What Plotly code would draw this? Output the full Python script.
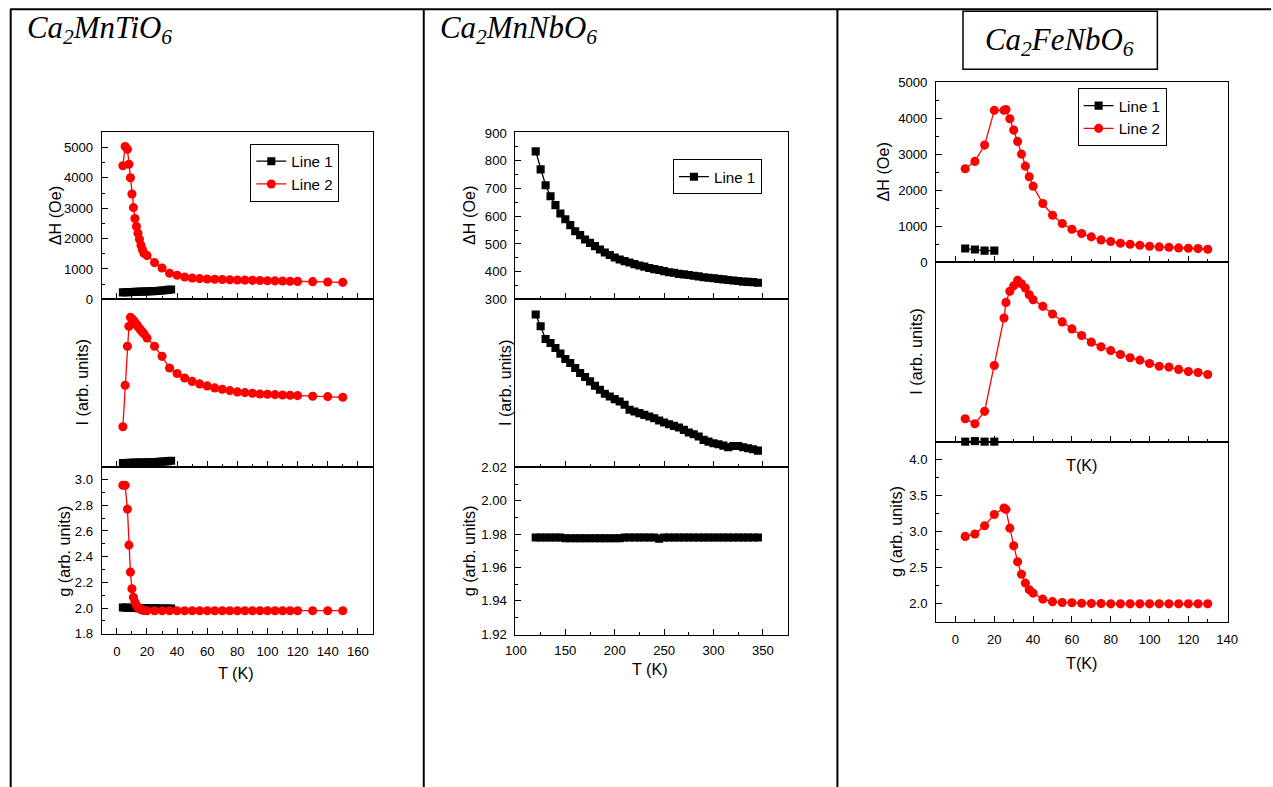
import plotly.graph_objects as go

# The page is shown with an 8 px body margin and the shot is scaled down a little;
# positions below are given in picture pixels and converted to figure coordinates.
W, H = 1281, 796
OFF = 8
SX, SY = 1273 / 1289, 787 / 803

# ---------------- data: Ca2MnTiO6 ----------------
t1_red = [4, 5.5, 7, 8, 9, 10, 11, 12, 13, 14, 15, 16, 17, 18, 20,
          25, 30, 35, 40, 45, 50, 55, 60, 65, 70, 75, 80, 85, 90, 95,
          100, 105, 110, 115, 120, 130, 140, 150]
dH1_red = [4400, 5030, 4945, 4450, 4000, 3470, 3020, 2660, 2400, 2180, 1980, 1780, 1630, 1520, 1440,
           1209, 1033, 857, 791, 736, 703, 681, 670, 660, 652, 645, 638, 632, 626, 620,
           614, 608, 602, 596, 590, 582, 571, 560]
I1_red = [0.239, 0.487, 0.72, 0.84, 0.893, 0.885, 0.875, 0.862, 0.85, 0.838, 0.826, 0.815, 0.805, 0.795, 0.77,
          0.72, 0.66, 0.59, 0.557, 0.53, 0.51, 0.495, 0.483, 0.471, 0.463, 0.455, 0.447, 0.443, 0.439, 0.435,
          0.433, 0.431, 0.429, 0.427, 0.425, 0.421, 0.419, 0.415]
g1_red = [2.956, 2.956, 2.77, 2.49, 2.28, 2.15, 2.085, 2.045, 2.02, 2.005, 1.995, 1.99, 1.985, 1.982, 1.98,
          1.98, 1.98, 1.98, 1.98, 1.98, 1.98, 1.98, 1.98, 1.98, 1.98, 1.98, 1.98, 1.98, 1.98, 1.98,
          1.98, 1.98, 1.98, 1.98, 1.98, 1.98, 1.98, 1.98]
t1_blk = [4, 6, 8, 10, 12, 14, 16, 18, 20, 22, 24, 26, 28, 30, 32, 34, 36]
dH1_blk = [230, 234, 238, 242, 246, 250, 254, 258, 262, 266, 270, 276, 284, 292, 300, 310, 322]
I1_blk = [0.022, 0.022, 0.023, 0.023, 0.024, 0.024, 0.025, 0.025, 0.026, 0.026, 0.027, 0.028, 0.029,
          0.030, 0.031, 0.033, 0.035]
g1_blk = [2.005, 2.004, 2.003, 2.002, 2.001, 2.0, 2.0, 1.999, 1.999, 1.998, 1.998, 1.998, 1.997,
          1.997, 1.997, 1.996, 1.996]

# ---------------- data: Ca2MnNbO6 ----------------
t2 = [120, 125, 130, 135, 140, 145, 150, 155, 160, 165, 170, 175, 180, 185, 190, 195,
      200, 205, 210, 215, 220, 225, 230, 235, 240, 245, 250, 255, 260, 265, 270, 275,
      280, 285, 290, 295, 300, 305, 310, 315, 320, 325, 330, 335, 340, 345]
dH2 = [834, 769, 712, 672, 640, 610, 589, 568, 546, 532, 516, 504, 492, 480, 469, 460,
       451, 444, 438, 433, 427, 422, 418, 413, 409, 406, 402, 398, 396, 392, 390, 388,
       385, 383, 380, 378, 376, 374, 372, 370, 368, 366, 364, 363, 362, 360]
I2 = [0.91, 0.84, 0.764, 0.74, 0.71, 0.676, 0.644, 0.62, 0.59, 0.56, 0.536, 0.51, 0.484, 0.46,
      0.436, 0.42, 0.404, 0.39, 0.37, 0.34, 0.33, 0.32, 0.31, 0.30, 0.29, 0.276, 0.264, 0.254,
      0.244, 0.234, 0.22, 0.204, 0.194, 0.18, 0.16, 0.15, 0.14, 0.134, 0.126, 0.116, 0.124,
      0.124, 0.116, 0.11, 0.104, 0.096]
g2 = [1.978, 1.978, 1.978, 1.978, 1.978, 1.978,
      1.9775, 1.9775, 1.9775, 1.9775, 1.9775, 1.9775, 1.9775, 1.9775, 1.9775, 1.9775, 1.9775, 1.9775,
      1.978, 1.978, 1.978, 1.978, 1.978, 1.978, 1.978, 1.9773,
      1.978, 1.978, 1.978, 1.978, 1.978, 1.978, 1.978, 1.978, 1.978, 1.978,
      1.978, 1.978, 1.978, 1.978, 1.978, 1.978, 1.978, 1.978, 1.978, 1.978]

# ---------------- data: Ca2FeNbO6 ----------------
t3_red = [5, 10, 15, 20, 25, 26, 28, 30, 32, 34, 36, 38, 40,
          45, 50, 55, 60, 65, 70, 75, 80, 85, 90, 95, 100, 105, 110, 115, 120, 125, 130]
dH3_red = [2602, 2806, 3261, 4227, 4230, 4250, 3995, 3679, 3363, 3010, 2675, 2378, 2118,
           1635, 1310, 1078, 920, 799, 706, 622, 576, 529, 502, 474, 446, 427, 418, 399, 390, 381, 362]
I3_red = [0.128, 0.10, 0.169, 0.425, 0.69, 0.777, 0.839, 0.87, 0.90, 0.881, 0.857, 0.82, 0.792,
          0.755, 0.712, 0.668, 0.629, 0.592, 0.555, 0.529, 0.508, 0.486, 0.468, 0.455, 0.436,
          0.421, 0.416, 0.403, 0.391, 0.386, 0.375]
g3_red = [2.935, 2.968, 3.083, 3.24, 3.33, 3.31, 3.05, 2.806, 2.583, 2.41, 2.287, 2.194, 2.148,
          2.065, 2.03, 2.019, 2.014, 2.008, 2.005, 2.003, 2.0, 2.0, 2.0, 2.0, 2.0, 2.0, 2.0, 2.0,
          2.0, 2.0, 2.0]
t3_blk = [5, 10, 15, 20]
dH3_blk = [381, 353, 325, 325]
I3_blk = [0.0, 0.003, 0.0, 0.0]

titles = ["<i>Ca<sub>2</sub>MnTiO<sub>6</sub></i>",
          "<i>Ca<sub>2</sub>MnNbO<sub>6</sub></i>",
          "<i>Ca<sub>2</sub>FeNbO<sub>6</sub></i>"]

SANS = "Liberation Sans, Arial, sans-serif"
SERIF = "Liberation Serif, Times New Roman, serif"
RED = "#ff0000"

def fx(x):
    return (x / SX - OFF) / W

def fy(y):
    return 1 - (y / SY - OFF) / H

def fs(s):
    return s / SX

# panel geometry (picture pixels)
geo = [
    dict(x=(100, 372), rows=[(133, 300), (300, 467), (467, 634)],
         xr=[-10, 170], xd=20, xm=10, so=5),
    dict(x=(515, 788), rows=[(133, 300), (300, 467), (467, 635)],
         xr=[99.5, 375], xd=50, xm=25, so=3),
    dict(x=(937, 1230), rows=[(83, 263), (263, 442), (442, 622)],
         xr=[-10, 140.5], xd=20, xm=10, so=5),
]
yspec = [
    [dict(r=[-5, 5500], d=1000, m=500, f=None), dict(r=[0, 1], d=None), dict(r=[1.8, 3.1], d=0.2, m=0.1, f=".1f")],
    [dict(r=[299.5, 903], d=100, m=50, f=None), dict(r=[0, 1], d=None), dict(r=[1.9195, 2.0205], d=0.02, m=0.01, f=".2f")],
    [dict(r=[-5, 5010], d=1000, m=500, f=None), dict(r=[0, 1], d=None), dict(r=[1.75, 4.25], d=0.5, m=0.25, f=".1f")],
]

fig = go.Figure()
layout = dict(width=W, height=H, autosize=False, margin=dict(l=0, r=0, t=0, b=0, pad=0),
              paper_bgcolor="white", plot_bgcolor="white", showlegend=True,
              font=dict(family=SANS, size=fs(13), color="black"))

tickfont = dict(family=SANS, size=fs(13), color="black")
for p in range(3):
    g = geo[p]
    for r in range(3):
        k = p * 3 + r + 1
        y0, y1 = g["rows"][r]
        xa = dict(domain=[fx(g["x"][0]), fx(g["x"][1])], anchor=f"y{k}", range=g["xr"],
                  showline=True, mirror=True, linecolor="black", linewidth=1,
                  showgrid=False, zeroline=False, ticks="inside", ticklen=6, tickcolor="black",
                  dtick=g["xd"], tick0=0,
                  minor=dict(ticks="inside", ticklen=3, dtick=g["xm"], tickcolor="black", showgrid=False),
                  showticklabels=(r == 2), tickfont=tickfont, ticklabelstandoff=g["so"])
        ys = yspec[p][r]
        ya = dict(domain=[fy(y1), fy(y0)], anchor=f"x{k}", range=ys["r"],
                  showline=True, mirror=True, linecolor="black", linewidth=1,
                  showgrid=False, zeroline=False, tickfont=tickfont)
        if ys["d"] is None:
            ya.update(ticks="", showticklabels=False)
        else:
            ya.update(ticks="inside", ticklen=6, tickcolor="black", dtick=ys["d"], tick0=0,
                      minor=dict(ticks="inside", ticklen=3, dtick=ys["m"], tickcolor="black", showgrid=False),
                      ticklabelstandoff=5)
            if ys["f"]:
                ya["tickformat"] = ys["f"]
        sfx = "" if k == 1 else str(k)
        layout["xaxis" + sfx] = xa
        layout["yaxis" + sfx] = ya


def add(x, y, k, color, symbol, size, name=None, legend=None, clip=True):
    sfx = "" if k == 1 else str(k)
    fig.add_trace(go.Scatter(
        x=x, y=y, mode="lines+markers", xaxis="x" + sfx, yaxis="y" + sfx,
        line=dict(color=color, width=1.3),
        marker=dict(color=color, symbol=symbol, size=fs(size)),
        name=name if name else "", showlegend=name is not None,
        legend=legend if legend else "legend", cliponaxis=clip))

SQ, CI = "square", "circle"
# panel 1
add(t1_blk, dH1_blk, 1, "black", SQ, 8, "Line 1", "legend")
add(t1_red, dH1_red, 1, RED, CI, 9, "Line 2", "legend")
add(t1_blk, I1_blk, 2, "black", SQ, 8)
add(t1_red, I1_red, 2, RED, CI, 9)
add(t1_blk, g1_blk, 3, "black", SQ, 8)
add(t1_red, g1_red, 3, RED, CI, 9)
# panel 2
add(t2, dH2, 4, "black", SQ, 8, "Line 1", "legend2")
add(t2, I2, 5, "black", SQ, 8)
add(t2, g2, 6, "black", SQ, 8)
# panel 3
add(t3_blk, dH3_blk, 7, "black", SQ, 8, "Line 1", "legend3")
add(t3_red, dH3_red, 7, RED, CI, 9, "Line 2", "legend3")
add(t3_blk, I3_blk, 8, "black", SQ, 8, clip=False)
add(t3_red, I3_red, 8, RED, CI, 9)
add(t3_red, g3_red, 9, RED, CI, 9)

legfont = dict(family=SANS, size=fs(15), color="black")
# (left, vertical centre, entry width) in picture pixels
for key, (lx, lyc, ew) in zip(["legend", "legend2", "legend3"],
                              [(249, 173.5, 58), (673, 177.5, 61), (1079, 118, 65)]):
    layout[key] = dict(x=fx(lx), y=fy(lyc), xanchor="left", yanchor="middle", xref="paper", yref="paper",
                       bordercolor="black", borderwidth=1, bgcolor="white", font=legfont,
                       tracegroupgap=0, itemsizing="trace", itemwidth=30,
                       entrywidth=fs(ew), entrywidthmode="pixels")

# table lines & title box
line = dict(color="black", width=2)
shapes = [
    dict(type="line", xref="paper", yref="paper", x0=0, x1=1, y0=fy(10), y1=fy(10), line=line),
    dict(type="line", xref="paper", yref="paper", x0=fx(8.6), x1=fx(8.6), y0=fy(10), y1=0, line=line),
    dict(type="line", xref="paper", yref="paper", x0=fx(423), x1=fx(423), y0=fy(10), y1=0, line=line),
    dict(type="line", xref="paper", yref="paper", x0=fx(838), x1=fx(838), y0=fy(10), y1=0, line=line),
    dict(type="rect", xref="paper", yref="paper", x0=fx(964), x1=fx(1159), y0=fy(70), y1=fy(12),
         line=dict(color="black", width=1.5)),
]
layout["shapes"] = shapes

ann = []
def text(t, x, y, size=16, angle=0, family=SANS, xanchor="center"):
    ann.append(dict(text=t, x=fx(x), y=fy(y), xref="paper", yref="paper", showarrow=False,
                    textangle=angle, xanchor=xanchor, yanchor="middle",
                    font=dict(family=family, size=fs(size), color="black")))

text(titles[0], 23, 30, 30.5, family=SERIF, xanchor="left")
text(titles[1], 437, 30, 30.5, family=SERIF, xanchor="left")
text(titles[2], 1061, 42, 30.5, family=SERIF)

# axis titles
text("ΔH (Oe)", 53, 216, angle=-90)
text("I (arb. units)", 80, 383, angle=-90)
text("g (arb. units)", 62, 551, angle=-90)
text("T (K)", 235, 673)
text("ΔH (Oe)", 469, 216, angle=-90)
text("I (arb. units)", 504, 383, angle=-90)
text("g (arb. units)", 468, 551, angle=-90)
text("T (K)", 650, 669)
text("ΔH (Oe)", 884, 173, angle=-90)
text("I (arb. units)", 916, 352, angle=-90)
text("g (arb. units)", 897, 532, angle=-90)
text("T(K)", 1083, 465)
text("T(K)", 1083, 663)
layout["annotations"] = ann

fig.update_layout(**layout)
fig.write_html("out.html", config={"displayModeBar": False})
